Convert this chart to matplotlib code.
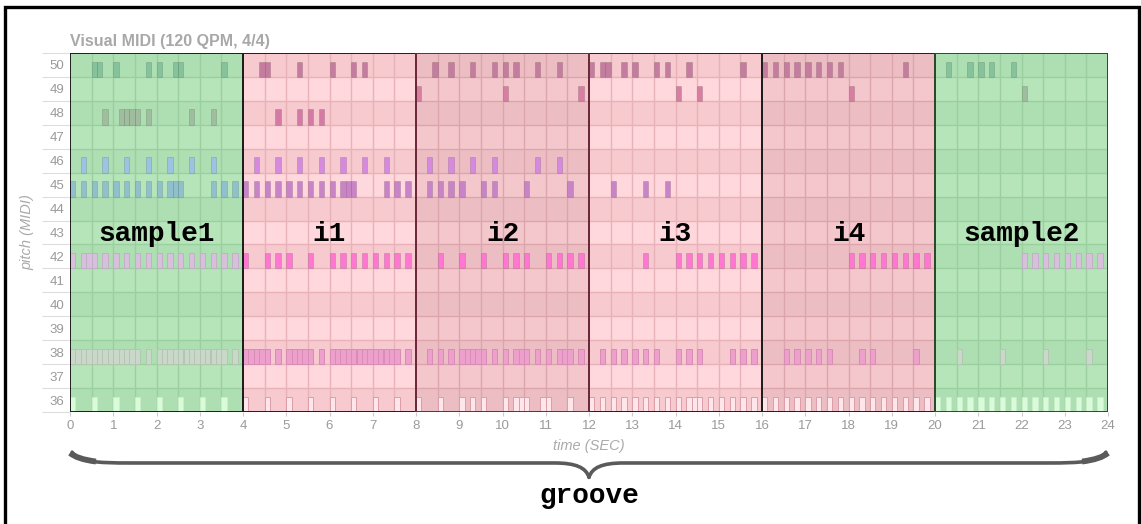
import numpy as np
import matplotlib
matplotlib.use("Agg")
import matplotlib.pyplot as plt
from matplotlib.patches import Rectangle, PathPatch
from matplotlib.path import Path
from matplotlib.transforms import blended_transform_factory

plt.rcParams["font.family"] = ["Liberation Sans", "DejaVu Sans"]

# ---------------- data ----------------
SECTION_NAMES = ["sample1", "i1", "i2", "i3", "i4", "sample2"]
SECTION_START = [0, 4, 8, 12, 16, 20]
SECTION_KIND = ["sample", "light", "dark", "light", "dark", "sample"]
SECTION_LEN = 4

PITCHES = list(range(36, 51))
X_TICKS = list(range(0, 25))

# note onsets (seconds) for each drum pitch
ONSETS_50 = [0.5, 0.625, 1.0, 1.75, 2.0, 2.375, 2.5, 3.5,
             4.375, 4.5, 5.25, 6.0, 6.5, 6.75,
             8.375, 8.75, 9.25, 9.75, 10.0, 10.25, 10.75, 11.25,
             12.0, 12.25, 12.375, 12.75, 13.0, 13.5, 13.75, 14.25, 15.5,
             16.0, 16.25, 16.5, 16.75, 17.0, 17.25, 17.5, 17.75, 19.25,
             20.25, 20.75, 21.0, 21.25, 21.75]
ONSETS_49 = [8.0, 10.0, 11.75, 14.0, 14.5, 18.0, 22.0]
ONSETS_48 = [0.75, 1.125, 1.25, 1.375, 1.5, 1.75, 2.75, 3.25,
             4.75, 5.25, 5.5, 5.75]
ONSETS_46 = [0.25, 0.75, 1.25, 1.75, 2.25, 2.75, 3.25,
             4.25, 4.75, 5.25, 5.75, 6.25, 6.75, 7.25,
             8.25, 8.75, 9.25, 9.75, 10.75, 11.25]
ONSETS_45 = [0.0, 0.25, 0.5, 0.75, 1.0, 1.25, 1.5, 1.75, 2.0, 2.25, 2.375, 2.5,
             3.25, 3.5, 3.75,
             4.0, 4.25, 4.5, 4.75, 5.0, 5.25, 5.5, 5.75, 6.0, 6.25, 6.375, 6.5,
             7.25, 7.5, 7.75,
             8.25, 8.5, 8.75, 9.0, 9.5, 9.75, 10.5, 11.5,
             12.5, 13.25, 13.75]
ONSETS_42 = [0.0, 0.25, 0.375, 0.5, 0.75, 1.0, 1.25, 1.5, 1.75, 2.0, 2.25, 2.5,
             2.75, 3.0, 3.25, 3.5, 3.75,
             4.0, 4.5, 4.75, 5.0, 5.5, 6.0, 6.25, 6.5, 6.75, 7.0, 7.25, 7.5, 7.75,
             8.5, 9.0, 9.5, 10.0, 10.25, 10.5, 11.0, 11.25, 11.5, 11.75,
             13.25, 14.0, 14.25, 14.5, 14.75, 15.0, 15.25, 15.5, 15.75,
             18.0, 18.25, 18.5, 18.75, 19.0, 19.25, 19.5, 19.75,
             22.0, 22.25, 22.5, 22.75, 23.0, 23.25, 23.5, 23.75]
ONSETS_38 = [0.0, 0.125, 0.25, 0.375, 0.5, 0.625, 0.75, 0.875, 1.0, 1.125, 1.25,
             1.375, 1.5, 1.75,
             2.0, 2.125, 2.25, 2.375, 2.5, 2.625, 2.75, 2.875, 3.0, 3.125, 3.25,
             3.375, 3.5, 3.75,
             4.0, 4.125, 4.25, 4.375, 4.5, 4.75, 5.0, 5.125, 5.25, 5.375, 5.5, 5.75,
             6.0, 6.125, 6.25, 6.375, 6.5, 6.625, 6.75, 6.875, 7.0, 7.125, 7.25,
             7.375, 7.5, 7.75,
             8.25, 8.5, 8.75, 9.0, 9.125, 9.25, 9.375, 9.5, 9.75, 10.0,
             10.25, 10.375, 10.5, 10.75, 11.0, 11.25, 11.375, 11.5, 11.75,
             12.25, 12.5, 12.75, 13.0, 13.25, 13.5, 14.0, 14.25, 14.5,
             15.25, 15.5, 15.75,
             16.5, 16.75, 17.0, 17.25, 17.5, 18.25, 18.5, 19.5,
             20.5, 21.5, 22.5, 23.5]
ONSETS_36 = [0.0, 0.5, 1.0, 1.5, 2.0, 2.5, 3.0, 3.5,
             4.0, 4.5, 5.0, 5.5, 6.0, 6.5, 7.0, 7.5,
             8.0, 8.5, 9.0, 9.25, 9.5, 10.0, 10.25, 10.375, 10.5, 10.875, 11.0, 11.5,
             12.0, 12.25, 12.5, 12.75, 13.0, 13.25, 13.5, 13.75, 14.0, 14.25,
             14.375, 14.5, 14.75, 15.0, 15.25, 15.5, 15.75,
             16.0, 16.25, 16.5, 16.75, 17.0, 17.25, 17.5, 17.75,
             18.0, 18.25, 18.5, 18.75, 19.0, 19.25, 19.5, 19.75,
             20.0, 20.25, 20.5, 20.75, 21.0, 21.25, 21.5, 21.75,
             22.0, 22.25, 22.5, 22.75, 23.0, 23.25, 23.5, 23.75]

NOTES = {50: ONSETS_50, 49: ONSETS_49, 48: ONSETS_48, 46: ONSETS_46,
         45: ONSETS_45, 42: ONSETS_42, 38: ONSETS_38, 36: ONSETS_36}

# ---------------- styles ----------------
NOTE_DUR = 0.123
NOTE_H = 0.64
SOFT_EDGE = (0, 0, 0, 0.12)
# (face, edge) in sample sections and in infill sections
NOTE_STYLE = {
    50: (("#86c29b", SOFT_EDGE), ("#c47c9f", SOFT_EDGE)),
    49: (("#a0be9f", SOFT_EDGE), ("#d67fa2", SOFT_EDGE)),
    48: (("#a0be9f", SOFT_EDGE), ("#d57aa5", SOFT_EDGE)),
    46: (("#9bc3e4", SOFT_EDGE), ("#d58ae0", SOFT_EDGE)),
    45: (("#8fc0cc", SOFT_EDGE), ("#c984c8", SOFT_EDGE)),
    42: (("#d7c0dc", "#c4aec9"), ("#ff77d0", SOFT_EDGE)),
    38: (("#cad8ca", "#b2c6b2"), ("#eda0cb", "#d98cb6")),
    36: (("#dafbda", "#c9eec9"), ("#ffe6ea", "#dc9ea8")),
}
BG = {"sample": ("#aedfb2", "#b5e5b9"),
      "light": ("#f6cace", "#ffd8dd"),
      "dark": ("#ecbec3", "#f4c7cc")}
GRID = {"sample": "#9ccfa0",
        "light": "#e8b2b9",
        "dark": "#dca5ac"}
EDGE = ["#1e1e1e", "#1e1e1e", "#6e2a3a", "#1e1e1e", "#1e1e1e", "#2e4a2e"]
GRAY = "#9a9a9a"
MONO = ["Liberation Mono", "DejaVu Sans Mono"]

W, H = 1141, 524
fig = plt.figure(figsize=(W / 100, H / 100), dpi=100)
ax = fig.add_axes([70 / W, 1 - 412 / H, 1038 / W, 359 / H])

# section backgrounds, row stripes and grid
for start, kind in zip(SECTION_START, SECTION_KIND):
    row_cols = [BG[kind][0] if p % 2 == 0 else BG[kind][1] for p in PITCHES]
    ax.barh(PITCHES, SECTION_LEN, left=start, height=1.0, color=row_cols,
            linewidth=0, zorder=0)
    beats = np.arange(start + 0.5, start + SECTION_LEN, 0.5)
    ax.vlines(beats, 35.5, 50.5, color=GRID[kind], lw=1.0, zorder=1)
    ax.hlines(np.arange(36.5, 50.5, 1.0), start, start + SECTION_LEN,
              color=GRID[kind], lw=1.0, zorder=1)

# notes
for pitch, onsets in NOTES.items():
    faces, edges = [], []
    for t in onsets:
        kind = SECTION_KIND[int(t // SECTION_LEN)]
        face, edge = NOTE_STYLE[pitch][0 if kind == "sample" else 1]
        faces.append(face)
        edges.append(edge)
    ax.bar(onsets, NOTE_H, width=NOTE_DUR, bottom=pitch - 0.5, align="edge",
           color=faces, edgecolor=edges, linewidth=0.7, zorder=2)

# section frames and names
order = [0, 1, 3, 4, 2, 5]
for i in order:
    ax.add_patch(Rectangle((SECTION_START[i], 35.5), SECTION_LEN, 15, fill=False,
                           edgecolor=EDGE[i], lw=1.4, zorder=3))
for name, start in zip(SECTION_NAMES, SECTION_START):
    ax.text(start + SECTION_LEN / 2, 42.66, name, ha="center", va="baseline",
            family=MONO, fontweight="bold", fontsize=20, color="black", zorder=4)

ax.set_xlim(0, 24)
ax.set_ylim(35.5, 50.5)
for s in ax.spines.values():
    s.set_visible(False)

ax.set_xticks(X_TICKS)
ax.set_xticklabels([str(x) for x in X_TICKS])
ax.tick_params(axis="x", length=3, width=0.8, color="#cccccc", labelcolor=GRAY,
               labelsize=9.5, pad=3)
ax.set_yticks(PITCHES)
ax.set_yticklabels([str(p) for p in PITCHES])
ax.set_yticks(np.arange(35.5, 51.0, 1.0), minor=True)
ax.tick_params(axis="y", which="major", length=0, labelcolor=GRAY,
               labelsize=9.5, pad=4)
ax.tick_params(axis="y", which="minor", length=20, width=0.8, color="#dddddd")

# titles
fig.text(70 / W, 1 - 46 / H, "Visual MIDI (120 QPM, 4/4)", ha="left",
         va="baseline", fontsize=11.5, fontweight="bold", color="#a8a8a8")
fig.text(27 / W, 1 - 232 / H, "pitch (MIDI)", rotation=90, ha="center",
         va="center", fontsize=10.5, fontstyle="italic", color="#aaaaaa")

trans = blended_transform_factory(ax.transData, ax.transAxes)
ax.text(12, -0.0947, "time (SEC)", transform=trans, ha="center", va="center",
        fontsize=10.5, fontstyle="italic", color="#aaaaaa")

# curly brace under the whole groove
def half_brace(x_end, sign):
    yl, ye, yt = -0.142, -0.112, -0.182
    xs = lambda d: x_end + sign * d
    verts = [(xs(0.05), ye), (xs(0.2), -0.139), (xs(0.6), yl), (xs(1.4), yl),
             (xs(11.2), yl), (xs(11.7), yl), (xs(11.93), -0.155), (12, yt)]
    codes = [Path.MOVETO, Path.CURVE4, Path.CURVE4, Path.CURVE4,
             Path.LINETO, Path.CURVE4, Path.CURVE4, Path.CURVE4]
    ax.add_patch(PathPatch(Path(verts, codes), fill=False, ec="#5a5a5a", lw=2.6,
                           transform=trans, clip_on=False, capstyle="round"))
    blob = [(xs(0.0), -0.114), (xs(0.12), -0.126), (xs(0.3), -0.133), (xs(0.6), -0.138)]
    ax.add_patch(PathPatch(Path(blob, [Path.MOVETO, Path.CURVE4, Path.CURVE4, Path.CURVE4]),
                           fill=False, ec="#5a5a5a", lw=4.2, transform=trans,
                           clip_on=False, capstyle="butt"))

half_brace(0, 1)
half_brace(24, -1)

ax.text(12, -0.2535, "groove", transform=trans, ha="center", va="baseline",
        family=MONO, fontweight="bold", fontsize=20, color="black")

# outer frame
fig.add_artist(Rectangle((5 / W, -0.05), (1138.5 - 5) / W, 1 - 7 / H + 0.05,
                         transform=fig.transFigure, fill=False, lw=2.4,
                         ec="black"))

fig.savefig("out.png", dpi=100)
